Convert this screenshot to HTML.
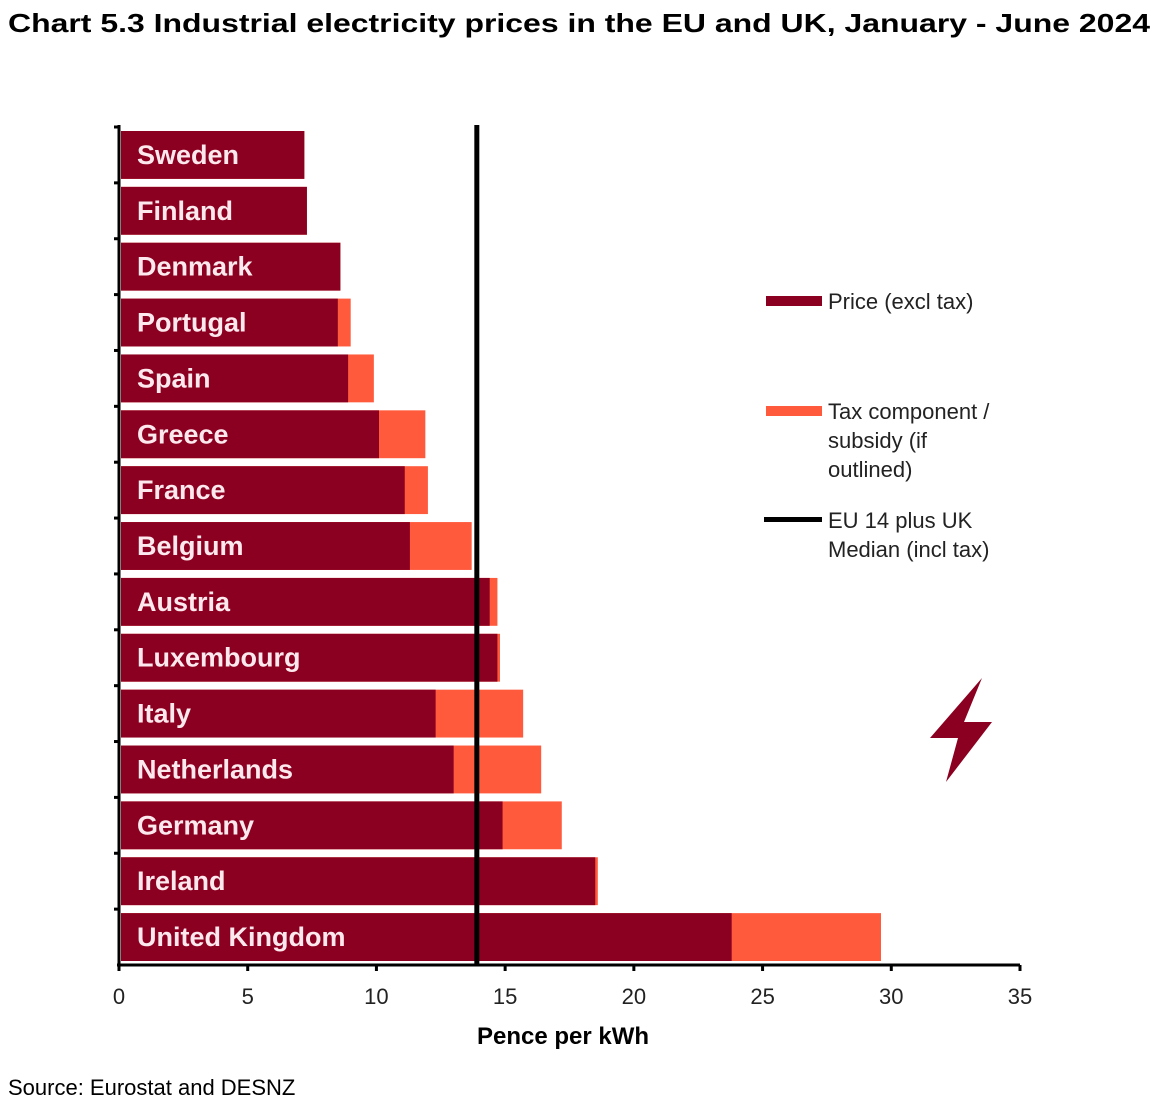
<!DOCTYPE html>
<html><head><meta charset="utf-8"><style>
body{margin:0;background:#fff;width:1170px;height:1110px;overflow:hidden;font-family:"Liberation Sans",Arial,sans-serif}
</style></head><body>
<svg width="1170" height="1110" xmlns="http://www.w3.org/2000/svg">
<text x="8" y="32" font-size="26" font-weight="bold" fill="#000" textLength="1142" lengthAdjust="spacingAndGlyphs">Chart 5.3 Industrial electricity prices in the EU and UK, January - June 2024</text>
<g id="plot"></g>
<text x="563" y="1044" text-anchor="middle" font-size="24" font-weight="bold">Pence per kWh</text>
<text x="8" y="1095" font-size="22">Source: Eurostat and DESNZ</text>
<g font-size="22" fill="#222">
<rect x="766" y="296" width="56" height="10" fill="#8B0020"/>
<text x="828" y="309">Price (excl tax)</text>
<rect x="766" y="406" width="56" height="10" fill="#FF5A3C"/>
<text x="828" y="419"><tspan x="828">Tax component /</tspan><tspan x="828" dy="29">subsidy (if</tspan><tspan x="828" dy="29">outlined)</tspan></text>
<rect x="764" y="517" width="58" height="5" fill="#000"/>
<text x="828" y="528"><tspan x="828">EU 14 plus UK</tspan><tspan x="828" dy="29">Median (incl tax)</tspan></text>
</g>
<polygon points="982,678 930,738 958,738 946,782 992,722 964,722" fill="#8B0020"/>
</svg>
<script>
const countries=["Sweden","Finland","Denmark","Portugal","Spain","Greece","France","Belgium","Austria","Luxembourg","Italy","Netherlands","Germany","Ireland","United Kingdom"];
const price=[7.2,7.3,8.6,8.5,8.9,10.1,11.1,11.3,14.4,14.7,12.3,13.0,14.9,18.5,23.8];
const total=[7.2,7.3,8.6,9.0,9.9,11.9,12.0,13.7,14.7,14.8,15.7,16.4,17.2,18.6,29.6];
const median=13.9;
const xTicks=[0,5,10,15,20,25,30,35];
const NS="http://www.w3.org/2000/svg";
const g=document.getElementById('plot');
const x0=119,x1=1020,yTop=127,yBottom=965;
const xs=v=>x0+(x1-x0)*v/35;
const rowH=(yBottom-yTop)/countries.length;
function mk(t,a){const e=document.createElementNS(NS,t);for(const k in a)e.setAttribute(k,a[k]);g.appendChild(e);return e;}
countries.forEach((c,i)=>{
 const y=yTop+i*rowH+4,h=rowH-8;
 const t=mk('rect',{x:xs(0)+2,y:y,width:xs(total[i])-xs(0)-2,height:h,fill:'#FF5A3C'});
 
 
 const p=mk('rect',{x:xs(0)+2,y:y,width:xs(price[i])-xs(0)-2,height:h,fill:'#8B0020'});
 
 
 const l=mk('text',{x:xs(0)+18,y:y+h/2+9,'font-size':27,'font-weight':'bold',fill:'#fde8ee'});
 l.textContent=c;
 
 
 const tk=mk('line',{x1:x0-5,x2:x0,y1:yTop+i*rowH,y2:yTop+i*rowH,stroke:'#000','stroke-width':3});
 
 
});
const ya=mk('line',{x1:x0,x2:x0,y1:yTop-2,y2:yBottom,stroke:'#000','stroke-width':3});


const xa=mk('line',{x1:x0-2,x2:x1,y1:yBottom,y2:yBottom,stroke:'#000','stroke-width':3});


xTicks.forEach(v=>{
 const tk=mk('line',{x1:xs(v),x2:xs(v),y1:yBottom,y2:yBottom+6,stroke:'#000','stroke-width':3});
 
 
 const tl=mk('text',{x:xs(v),y:yBottom+39,'text-anchor':'middle','font-size':22,fill:'#222'});
 tl.textContent=v;
 
 
});
const m=mk('line',{x1:xs(median),x2:xs(median),y1:yTop-2,y2:yBottom,stroke:'#000','stroke-width':5});


</script>
</body></html>
